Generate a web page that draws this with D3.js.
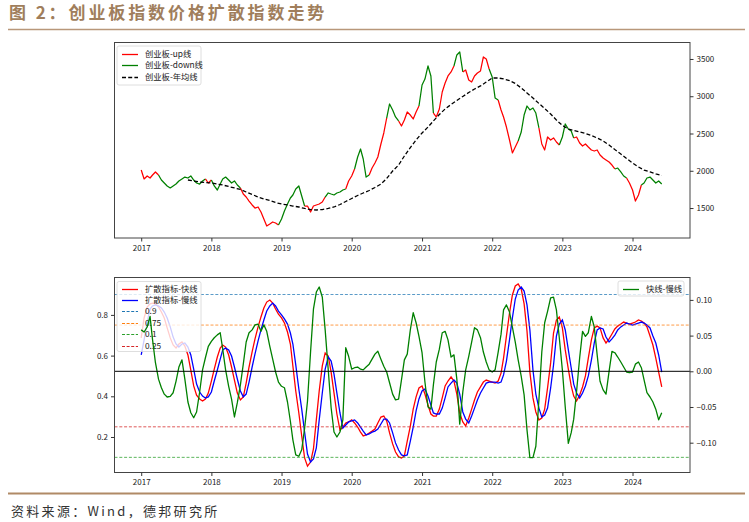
<!DOCTYPE html>
<html><head><meta charset="utf-8">
<script src="https://cdn.jsdelivr.net/npm/d3@7"></script>
<style>body{margin:0;background:#fff}svg{display:block}</style>
</head><body>
<svg id="c" width="749" height="522"></svg>
<script>
// ---------- DATA ----------
const halfMonthDates = [
"2017-01-01","2017-01-16","2017-02-01","2017-02-16","2017-03-01","2017-03-16","2017-04-01","2017-04-16","2017-05-01","2017-05-16","2017-06-01","2017-06-16","2017-07-01","2017-07-16","2017-08-01","2017-08-16","2017-09-01","2017-09-16","2017-10-01","2017-10-16","2017-11-01","2017-11-16","2017-12-01","2017-12-16",
"2018-01-01","2018-01-16","2018-02-01","2018-02-16","2018-03-01","2018-03-16","2018-04-01","2018-04-16","2018-05-01","2018-05-16","2018-06-01","2018-06-16","2018-07-01","2018-07-16","2018-08-01","2018-08-16","2018-09-01","2018-09-16","2018-10-01","2018-10-16","2018-11-01","2018-11-16","2018-12-01","2018-12-16",
"2019-01-01","2019-01-16","2019-02-01","2019-02-16","2019-03-01","2019-03-16","2019-04-01","2019-04-16","2019-05-01","2019-05-16","2019-06-01","2019-06-16","2019-07-01","2019-07-16","2019-08-01","2019-08-16","2019-09-01","2019-09-16","2019-10-01","2019-10-16","2019-11-01","2019-11-16","2019-12-01","2019-12-16",
"2020-01-01","2020-01-16","2020-02-01","2020-02-16","2020-03-01","2020-03-16","2020-04-01","2020-04-16","2020-05-01","2020-05-16","2020-06-01","2020-06-16","2020-07-01","2020-07-16","2020-08-01","2020-08-16","2020-09-01","2020-09-16","2020-10-01","2020-10-16","2020-11-01","2020-11-16","2020-12-01","2020-12-16",
"2021-01-01","2021-01-16","2021-02-01","2021-02-16","2021-03-01","2021-03-16","2021-04-01","2021-04-16","2021-05-01","2021-05-16","2021-06-01","2021-06-16","2021-07-01","2021-07-16","2021-08-01","2021-08-16","2021-09-01","2021-09-16","2021-10-01","2021-10-16","2021-11-01","2021-11-16","2021-12-01","2021-12-16",
"2022-01-01","2022-01-16","2022-02-01","2022-02-16","2022-03-01","2022-03-16","2022-04-01","2022-04-16","2022-05-01","2022-05-16","2022-06-01","2022-06-16","2022-07-01","2022-07-16","2022-08-01","2022-08-16","2022-09-01","2022-09-16","2022-10-01","2022-10-16","2022-11-01","2022-11-16","2022-12-01","2022-12-16",
"2023-01-01","2023-01-16","2023-02-01","2023-02-16","2023-03-01","2023-03-16","2023-04-01","2023-04-16","2023-05-01","2023-05-16","2023-06-01","2023-06-16","2023-07-01","2023-07-16","2023-08-01","2023-08-16","2023-09-01","2023-09-16","2023-10-01","2023-10-16","2023-11-01","2023-11-16","2023-12-01","2023-12-16",
"2024-01-01","2024-01-16","2024-02-01","2024-02-16","2024-03-01","2024-03-16","2024-04-01","2024-04-16","2024-05-01","2024-05-16","2024-06-01"];

// ChiNext index close
const priceClose = [
2010,1890,1930,1903,1943,1984,1943,1876,1836,1796,1769,1796,1822,1863,1890,1916,1903,1930,1876,1836,1822,1863,1890,1836,
1876,1796,1742,1822,1890,1916,1876,1836,1863,1809,1769,1688,1648,1594,1541,1500,1514,1447,1353,1259,1286,1313,1299,1272,
1353,1460,1554,1635,1675,1755,1796,1661,1527,1527,1447,1527,1541,1554,1581,1648,1702,1688,1675,1702,1715,1742,1755,1863,
1930,2024,2185,2292,2158,1916,1943,2037,2104,2185,2359,2507,2708,2896,2816,2722,2668,2601,2681,2789,2748,2695,2789,2869,
3151,3231,3406,3272,2775,2722,2829,3057,3178,3272,3326,3406,3554,3594,3326,3352,3218,3191,3272,3312,3339,3527,3500,3366,
3258,2977,2950,2816,2722,2587,2413,2239,2319,2400,2520,2748,2869,2816,2842,2775,2574,2359,2279,2453,2413,2440,2386,2346,
2453,2628,2561,2534,2440,2453,2373,2332,2359,2319,2279,2265,2279,2212,2171,2145,2118,2077,2024,2037,1984,1930,1903,1836,
1742,1594,1675,1809,1836,1903,1916,1876,1836,1863,1822];

// periods coloured as "down" (green); the rest is "up" (red)
const downPeriods = [
["2017-04-08","2017-11-29"],["2018-01-05","2018-05-28"],["2018-12-24","2019-05-01"],["2019-08-24","2019-12-07"],
["2020-01-18","2020-03-25"],["2020-07-01","2020-09-08"],["2020-12-20","2021-02-28"],["2021-06-20","2021-08-01"],
["2021-12-20","2022-01-26"],["2022-05-24","2022-08-26"],["2022-12-19","2023-03-06"],["2023-10-01","2023-12-08"],
["2024-02-20","2024-06-30"]];

const maMonths = [
"2017-09","2017-10","2017-11","2017-12",
"2018-01","2018-02","2018-03","2018-04","2018-05","2018-06","2018-07","2018-08","2018-09","2018-10","2018-11","2018-12",
"2019-01","2019-02","2019-03","2019-04","2019-05","2019-06","2019-07","2019-08","2019-09","2019-10","2019-11","2019-12",
"2020-01","2020-02","2020-03","2020-04","2020-05","2020-06","2020-07","2020-08","2020-09","2020-10","2020-11","2020-12",
"2021-01","2021-02","2021-03","2021-04","2021-05","2021-06","2021-07","2021-08","2021-09","2021-10","2021-11","2021-12",
"2022-01","2022-02","2022-03","2022-04","2022-05","2022-06","2022-07","2022-08","2022-09","2022-10","2022-11","2022-12",
"2023-01","2023-02","2023-03","2023-04","2023-05","2023-06","2023-07","2023-08","2023-09","2023-10","2023-11","2023-12",
"2024-01","2024-02","2024-03","2024-04","2024-05","2024-06"];
const maValues = [
1876,1863,1849,1843,
1836,1822,1809,1789,1769,1749,1715,1682,1648,1621,1601,1574,
1554,1541,1527,1514,1494,1480,1474,1480,1494,1514,1547,1588,
1628,1668,1702,1735,1776,1822,1896,1997,2077,2198,2312,2413,
2507,2587,2668,2755,2829,2889,2943,2997,3050,3097,3138,3191,
3245,3245,3232,3211,3171,3111,3044,2977,2903,2836,2762,2681,
2608,2561,2540,2520,2500,2473,2440,2400,2346,2285,2225,2165,
2104,2051,2010,1984,1957,1937];

const fastLine = [
.687,.785,.839,.854,.858,.854,.839,.814,.785,.736,.687,.652,.637,.657,.667,.647,.603,.529,.451,.406,.387,.377,.387,.416,
.475,.534,.593,.637,.652,.642,.603,.544,.480,.416,.382,.397,.465,.544,.618,.682,.741,.790,.834,.863,.873,.858,.829,.804,
.785,.760,.716,.657,.549,.426,.318,.205,.097,.057,.077,.141,.284,.426,.549,.613,.598,.519,.416,.313,.234,.249,.269,.274,
.284,.269,.249,.224,.205,.210,.220,.229,.239,.269,.298,.303,.279,.220,.166,.126,.102,.097,.107,.180,.254,.337,.397,.441,
.451,.411,.357,.313,.303,.303,.337,.392,.451,.475,.495,.475,.411,.318,.274,.254,.293,.337,.382,.421,.446,.470,.480,.475,
.470,.465,.475,.514,.588,.696,.809,.898,.942,.952,.927,.854,.721,.519,.392,.323,.284,.293,.337,.441,.564,.711,.775,.790,
.736,.628,.534,.451,.401,.377,.406,.446,.500,.588,.677,.736,.745,.736,.687,.662,.682,.706,.731,.745,.755,.765,.760,.755,
.760,.765,.775,.770,.760,.741,.696,.652,.588,.519,.446];

const slowLine = [
.603,.677,.765,.829,.844,.849,.844,.834,.814,.785,.741,.691,.657,.642,.657,.662,.642,.603,.534,.460,.421,.401,.392,.397,
.421,.475,.529,.583,.628,.637,.628,.598,.544,.485,.426,.397,.411,.470,.544,.608,.672,.726,.775,.819,.844,.858,.844,.819,
.800,.780,.755,.711,.657,.554,.436,.337,.224,.116,.077,.092,.146,.284,.416,.534,.593,.573,.509,.416,.318,.244,.259,.274,
.279,.284,.269,.249,.229,.210,.215,.224,.229,.239,.264,.288,.288,.269,.220,.171,.136,.112,.107,.112,.180,.249,.328,.387,
.426,.436,.401,.357,.318,.313,.313,.342,.392,.446,.465,.480,.465,.411,.323,.288,.269,.303,.342,.382,.416,.441,.465,.470,
.470,.470,.465,.470,.505,.573,.677,.785,.878,.922,.937,.917,.849,.726,.529,.411,.342,.298,.308,.342,.441,.554,.696,.755,
.775,.726,.628,.539,.460,.416,.392,.416,.451,.500,.578,.662,.726,.736,.731,.691,.667,.682,.701,.726,.741,.750,.760,.755,
.750,.755,.760,.765,.760,.750,.736,.696,.662,.603,.519];

const fastMinusSlow = [
.058,.055,.062,.077,.044,.012,-.011,-.023,-.032,-.036,-.035,-.030,-.014,.006,.016,-.011,-.043,-.058,-.065,-.057,-.029,.002,.019,.035,
.042,.047,.051,.054,.031,.002,-.021,-.039,-.064,-.044,-.019,.010,.041,.054,.058,.065,.066,.056,.065,.056,.035,.017,-.001,-.015,
-.021,-.023,-.043,-.070,-.096,-.117,-.119,-.110,-.080,-.042,.027,.087,.111,.118,.104,.058,.002,-.051,-.085,-.092,-.085,-.068,.033,.021,
.003,.005,.006,.003,.002,.006,.010,.017,.024,.028,.017,.007,-.001,-.016,-.032,-.040,-.039,-.012,.016,.024,.058,.082,.068,.049,
.026,-.015,-.050,-.053,-.019,.013,.031,.054,.056,.044,.020,.023,-.011,-.074,-.029,.002,.021,.041,.061,.058,.047,.027,.013,.002,
-.001,.002,.027,.052,.086,.093,.083,.062,.041,.016,-.007,-.033,-.082,-.121,-.121,-.105,-.040,.027,.068,.084,.103,.104,.086,.047,
.002,-.050,-.101,-.086,-.067,-.028,.019,.056,.049,.054,.077,.062,.023,-.014,-.026,-.032,.000,.028,.026,.020,.013,.006,-.001,-.002,
-.001,.010,.013,.005,-.012,-.030,-.036,-.043,-.053,-.068,-.058];

const thresholds = [0.9, 0.75, 0.1, 0.25];
const thresholdLabels = ["0.9", "0.75", "0.1", "0.25"];
const yearTicks = ["2017","2018","2019","2020","2021","2022","2023","2024"];
const priceTicks = [1500, 2000, 2500, 3000, 3500];
const leftTicks = [0.2, 0.4, 0.6, 0.8];
const rightTicks = [-0.10, -0.05, 0.00, 0.05, 0.10];
const topLegend = ["创业板-up线", "创业板-down线", "创业板-年均线"];
const bottomLegend = ["扩散指标-快线", "扩散指标-慢线"];
const rightLegend = ["快线-慢线"];

// ---------- DRAW ----------
const svg = d3.select("#c");
const FONT = "'Noto Sans CJK SC','DejaVu Sans',sans-serif";
const pD = d3.timeParse("%Y-%m-%d"), pM = d3.timeParse("%Y-%m"), pY = d3.timeParse("%Y");
const dates = halfMonthDates.map(pD);
const down = downPeriods.map(p => [pD(p[0]), pD(p[1])]);
const isDown = t => down.some(p => t >= p[0] && t < p[1]);

const L = 114.5, R = 690;
const x = d3.scaleTime().domain([new Date(2016,7,15), new Date(2024,9,26)]).range([L, R]);

// title
svg.append("text").attr("x", 9).attr("y", 18.5).text("图 2：创业板指数价格扩散指数走势")
  .attr("font-family", FONT).attr("font-size", 17).attr("font-weight", "bold")
  .attr("letter-spacing", 2.9).attr("fill", "#a07e5c");
svg.append("line").attr("x1", 8).attr("x2", 745).attr("y1", 29.5).attr("y2", 29.5)
  .attr("stroke", "#b8977a").attr("stroke-width", 1.5);
svg.append("line").attr("x1", 8).attr("x2", 745).attr("y1", 493.5).attr("y2", 493.5)
  .attr("stroke", "#b08a66").attr("stroke-width", 2);
svg.append("text").attr("x", 11).attr("y", 516).text("资料来源：Wind，德邦研究所")
  .attr("font-family", FONT).attr("font-size", 13).attr("letter-spacing", 2.3).attr("fill", "#333");

function clip(id, y0, y1) {
  svg.append("clipPath").attr("id", id).append("rect")
    .attr("x", L).attr("y", y0).attr("width", R - L).attr("height", y1 - y0);
}
function styleAxis(g) {
  g.select(".domain").remove();
  g.selectAll("line").attr("stroke", "#333");
  g.selectAll("text").attr("font-family", FONT).attr("font-size", 8).attr("fill", "#222");
}
function legend(items, x0, y0, w, h, rowStart, rowH) {
  const g = svg.append("g");
  g.append("rect").attr("x", x0).attr("y", y0).attr("width", w).attr("height", h).attr("rx", 2)
    .attr("fill", "#fff").attr("fill-opacity", 0.8).attr("stroke", "#d6d6d6").attr("stroke-width", 0.8);
  items.forEach((it, k) => {
    const yy = Math.round(y0 + rowStart + k * rowH) + 0.5;
    g.append("line").attr("x1", x0 + 5).attr("x2", x0 + 21).attr("y1", yy).attr("y2", yy)
      .attr("stroke", it.c).attr("stroke-width", it.w || 1.3).attr("stroke-dasharray", it.d || null);
    g.append("text").attr("x", x0 + 28).attr("y", yy).attr("dy", "0.36em").text(it.t)
      .attr("font-family", FONT).attr("font-size", 8.3).attr("fill", "#222");
  });
}

// ---- top panel ----
const T0 = 42.5, T1 = 238;
const yP = d3.scaleLinear().domain([1098, 3721]).range([T1, T0]);
clip("ct", T0, T1);
const gt = svg.append("g").attr("clip-path", "url(#ct)");
let runs = [], cur = null;
for (let i = 0; i < dates.length - 1; i++) {
  const mid = new Date((dates[i].getTime() + dates[i+1].getTime()) / 2);
  const c = isDown(mid) ? "#008000" : "#ff0000";
  if (!cur || cur.c !== c) { cur = { c, pts: [i] }; runs.push(cur); }
  cur.pts.push(i + 1);
}
const lineP = d3.line().x(i => x(dates[i])).y(i => yP(priceClose[i]));
runs.forEach(r => gt.append("path").attr("d", lineP(r.pts)).attr("fill", "none")
  .attr("stroke", r.c).attr("stroke-width", 1.25).attr("stroke-linejoin", "round"));
const maDates = maMonths.map(pM);
gt.append("path").attr("d", d3.line().x((d, i) => x(maDates[i])).y(d => yP(d))(maValues))
  .attr("fill", "none").attr("stroke", "#000").attr("stroke-width", 1.3).attr("stroke-dasharray", "4,2.2");
legend([{t: topLegend[0], c: "#ff0000"}, {t: topLegend[1], c: "#008000"}, {t: topLegend[2], c: "#000", d: "4,2.2"}],
  117, 46, 84, 39, 8, 11.3);
svg.append("rect").attr("x", L).attr("y", T0).attr("width", R - L).attr("height", T1 - T0)
  .attr("fill", "none").attr("stroke", "#444").attr("stroke-width", 1);
const ax1 = svg.append("g").attr("transform", `translate(${R},0)`)
  .call(d3.axisRight(yP).tickValues(priceTicks).tickSize(3.5).tickPadding(3).tickFormat(d3.format("d")));
styleAxis(ax1);
const ax2 = svg.append("g").attr("transform", `translate(0,${T1})`)
  .call(d3.axisBottom(x).tickValues(yearTicks.map(pY)).tickSize(3.5).tickPadding(3.5).tickFormat(d3.timeFormat("%Y")));
styleAxis(ax2);

// ---- bottom panel ----
const B0 = 277.5, B1 = 472.5;
const yL = d3.scaleLinear().domain([0.02555, 0.98378]).range([B1, B0]);
const yR = d3.scaleLinear().domain([-0.14174, 0.13137]).range([B1, B0]);
clip("cb", B0, B1);
const gb = svg.append("g").attr("clip-path", "url(#cb)");
const lineL = arr => d3.line().x((d, i) => x(dates[i])).y(d => yL(d))(arr);
gb.append("path").attr("d", lineL(fastLine)).attr("fill", "none").attr("stroke", "#ff0000").attr("stroke-width", 1.3);
gb.append("path").attr("d", lineL(slowLine)).attr("fill", "none").attr("stroke", "#0000ff").attr("stroke-width", 1.3);
const thrColors = ["#1f77b4", "#ff7f0e", "#2ca02c", "#d62728"];
thresholds.forEach((v, k) => gb.append("line").attr("x1", L).attr("x2", R).attr("y1", yL(v)).attr("y2", yL(v))
  .attr("stroke", thrColors[k]).attr("stroke-width", 0.9).attr("stroke-dasharray", "3,1.8").attr("opacity", 0.85));
legend([{t: bottomLegend[0], c: "#ff0000"}, {t: bottomLegend[1], c: "#0000ff"}]
  .concat(thresholdLabels.map((t, k) => ({t, c: thrColors[k], d: "3,1.6", w: 1.1}))),
  117, 281.5, 84, 70, 7, 11.4);
const gb2 = svg.append("g").attr("clip-path", "url(#cb)");
gb2.append("path").attr("d", d3.line().x((d, i) => x(dates[i])).y(d => yR(d))(fastMinusSlow))
  .attr("fill", "none").attr("stroke", "#008000").attr("stroke-width", 1.3).attr("stroke-linejoin", "round");
gb2.append("line").attr("x1", L).attr("x2", R).attr("y1", yR(0)).attr("y2", yR(0))
  .attr("stroke", "#000").attr("stroke-width", 1);
legend([{t: rightLegend[0], c: "#008000"}], 618, 281, 66, 15, 7.5, 11);
svg.append("rect").attr("x", L).attr("y", B0).attr("width", R - L).attr("height", B1 - B0)
  .attr("fill", "none").attr("stroke", "#444").attr("stroke-width", 1);
const ax3 = svg.append("g").attr("transform", `translate(${L},0)`)
  .call(d3.axisLeft(yL).tickValues(leftTicks).tickSize(3.5).tickPadding(3).tickFormat(d3.format(".1f")));
styleAxis(ax3);
const ax4 = svg.append("g").attr("transform", `translate(${R},0)`)
  .call(d3.axisRight(yR).tickValues(rightTicks).tickSize(3.5).tickPadding(3).tickFormat(d3.format(".2f")));
styleAxis(ax4);
const ax5 = svg.append("g").attr("transform", `translate(0,${B1})`)
  .call(d3.axisBottom(x).tickValues(yearTicks.map(pY)).tickSize(3.5).tickPadding(3.5).tickFormat(d3.timeFormat("%Y")));
styleAxis(ax5);
</script>
</body></html>
